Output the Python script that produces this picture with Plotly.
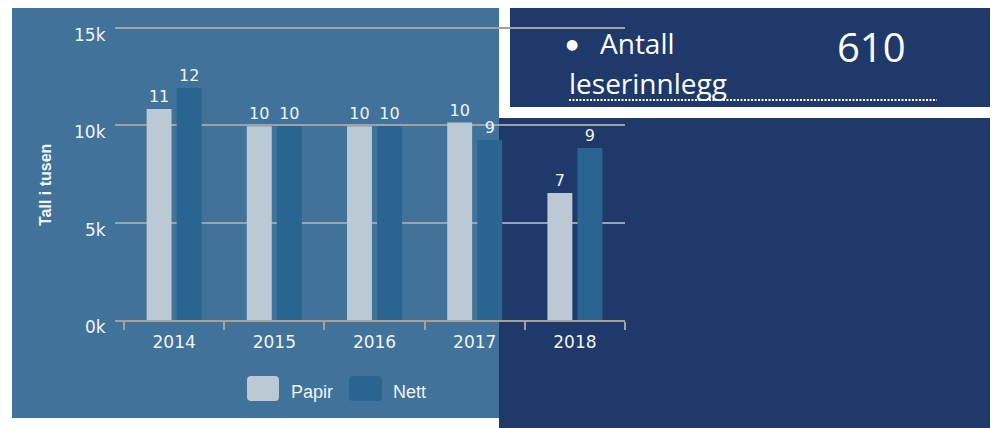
import plotly.graph_objects as go

# ---- data ----
years = ["2014", "2015", "2016", "2017", "2018"]
papir = [10840, 9950, 9950, 10140, 6520]
nett = [11920, 9950, 9950, 9250, 8840]
y_tickvals = [0, 5000, 10000, 15000]
y_ticktext = ["0k", "5k", "10k", "15k"]
series_names = ["Papir", "Nett"]
box_label_1 = "Antall"
box_label_2 = "leserinnlegg"
box_value = "610"

# ---- layout geometry (page is offset by the 8px body margin) ----
OFF = 8
W, H = 998, 428 - OFF
PLOT_X0, PLOT_X1 = 115 - OFF, 625 - OFF      # plot area in figure px
Y0_PX, Y15_PX = 320 - OFF, 28 - OFF          # pixel of 0 and 15k
EXTRA = 7                                    # px of headroom above 15k
PH = (Y0_PX - Y15_PX) + EXTRA
YMAX = 15000 * PH / (Y0_PX - Y15_PX)
L, R = PLOT_X0, W - PLOT_X1
T, B = Y15_PX - EXTRA, H - Y0_PX
PW = PLOT_X1 - PLOT_X0

STEEL = "#40729a"
NAVY = "#1e396a"
PAPIR_C = "#bac9d3"
NETT_C = "#296590"
GRID = "#a2a2a2"
TXT = "#f2f5f8"


def px(x):  # window px -> paper
    return (x - OFF - L) / PW


def py(y):  # window px -> paper
    return (Y0_PX - (y - OFF)) / PH


def rect(x0, y0, x1, y1, color, layer="below"):
    return dict(type="rect", xref="paper", yref="paper", x0=px(x0), x1=px(x1),
                y0=py(y1), y1=py(y0), fillcolor=color, line=dict(width=0), layer=layer)


def rounded(x0, y0, x1, y1, r, color):
    X0, X1 = px(x0), px(x1)
    Y0, Y1 = py(y1), py(y0)
    rx, ry = r / PW, r / PH
    path = (f"M {X0+rx},{Y0} L {X1-rx},{Y0} Q {X1},{Y0} {X1},{Y0+ry} "
            f"L {X1},{Y1-ry} Q {X1},{Y1} {X1-rx},{Y1} L {X0+rx},{Y1} "
            f"Q {X0},{Y1} {X0},{Y1-ry} L {X0},{Y0+ry} Q {X0},{Y0} {X0+rx},{Y0} Z")
    return dict(type="path", xref="paper", yref="paper", path=path,
                fillcolor=color, line=dict(width=0), layer="above")


def note(text, x, y, size, family, xanchor="left", color="white", **kw):
    return dict(text=text, x=px(x), y=py(y), xref="paper", yref="paper",
                xanchor=xanchor, yanchor="middle", showarrow=False,
                font=dict(family=family, size=size, color=color), **kw)


fig = go.Figure()
for name, vals, col in [(series_names[0], papir, PAPIR_C), (series_names[1], nett, NETT_C)]:
    fig.add_trace(go.Bar(
        x=years, y=vals, name=name, marker=dict(color=col, line=dict(width=0)),
        text=[f"{round(v / 1000)}" for v in vals], textposition="outside",
        textfont=dict(family="DejaVu Sans", size=16, color=TXT),
        constraintext="none", cliponaxis=False, showlegend=False,
        hoverinfo="skip",
    ))

shapes = [
    rect(12, 8, 499, 418, STEEL),
    rect(510, 8, 1010, 107, NAVY),
    rect(499, 118, 1010, 440, NAVY),
    rounded(247, 376, 279, 401, 4, PAPIR_C),
    rounded(349, 376, 382, 401, 4, NETT_C),
    dict(type="line", xref="paper", yref="paper", x0=px(569), x1=px(937),
         y0=py(100), y1=py(100), line=dict(color="white", width=2, dash="2px,1.5px"),
         layer="above"),
]

annotations = [
    note("<b>Tall i tusen</b>", 45, 185, 16, "Liberation Sans", xanchor="center",
         color=TXT, textangle=-90),
    note(series_names[0], 289, 392, 18, "Liberation Sans", color=TXT),
    note(series_names[1], 391, 392, 18, "Liberation Sans", color=TXT),
    note("●", 572, 44, 14, "DejaVu Sans", xanchor="center"),
    note(box_label_1, 598, 43, 28, "Open Sans"),
    note(box_label_2, 567, 83, 28, "Open Sans"),
    note(box_value, 835, 46, 40, "Open Sans"),
]
# y tick labels (placed just under their gridlines, as in the original)
for v, t in zip(y_tickvals, y_ticktext):
    annotations.append(dict(text=t, x=px(108), y=v, xref="paper", yref="y",
                            xanchor="right", yanchor="middle", yshift=-7,
                            showarrow=False,
                            font=dict(family="DejaVu Sans", size=17, color=TXT)))

fig.update_layout(
    width=W, height=H,
    margin=dict(l=L, r=R, t=T, b=B, pad=0),
    paper_bgcolor="white", plot_bgcolor="rgba(0,0,0,0)",
    barmode="group", bargap=0.4, bargroupgap=0.17,
    shapes=shapes, annotations=annotations,
    showlegend=False,
)
fig.update_xaxes(
    range=[-0.59, 4.5], showgrid=False, showline=True, linecolor=GRID, linewidth=2,
    ticks="outside", ticklen=8, tickwidth=2, tickcolor=GRID, tickson="boundaries",
    ticklabelstandoff=6,
    tickfont=dict(family="DejaVu Sans", size=17, color=TXT), fixedrange=True,
)
fig.update_yaxes(
    range=[0, YMAX], tickvals=y_tickvals, showticklabels=False,
    showgrid=True, gridcolor=GRID, gridwidth=2, zeroline=False, showline=False,
    ticks="", fixedrange=True,
)

fig.write_html("out.html")
